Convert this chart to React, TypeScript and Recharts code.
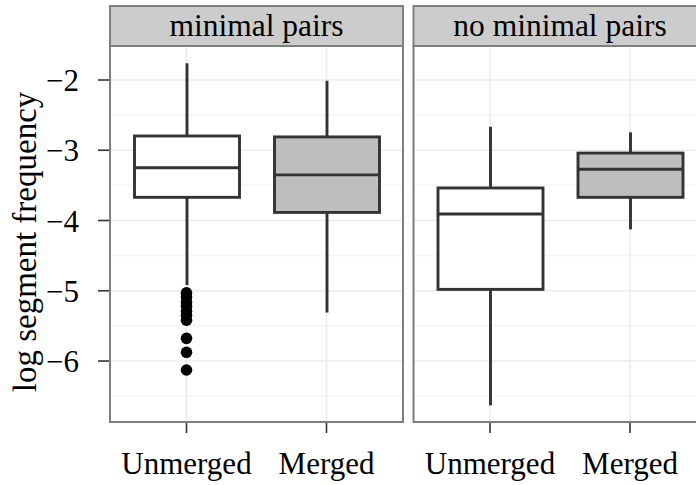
import React from "react";
import {
  ComposedChart,
  Bar,
  Scatter,
  XAxis,
  YAxis,
  CartesianGrid,
} from "recharts";

// ---- data ----
const categories = ["Unmerged", "Merged"];
const panelTitles = ["minimal pairs", "no minimal pairs"];
const boxFills = ["#ffffff", "#bebebe"];

// panel 1: minimal pairs
const mpWhiskerLow = [-4.92, -5.31];
const mpQ1 = [-3.67, -3.885];
const mpMedian = [-3.248, -3.35];
const mpQ3 = [-2.797, -2.81];
const mpWhiskerHigh = [-1.762, -2.01];
const mpOutliers = [-5.03, -5.09, -5.16, -5.22, -5.29, -5.35, -5.42, -5.677, -5.876, -6.128];

// panel 2: no minimal pairs
const nmpWhiskerLow = [-6.63, -4.125];
const nmpQ1 = [-4.98, -3.67];
const nmpMedian = [-3.907, -3.27];
const nmpQ3 = [-3.537, -3.04];
const nmpWhiskerHigh = [-2.665, -2.745];
const nmpOutliers: number[] = [];

const yTicks = [-6, -5, -4, -3, -2];
const yMinorTicks = [-6.5, -5.5, -4.5, -3.5, -2.5];
const yDomain = [-6.868, -1.516];

const FONT = "'Liberation Serif', 'Times New Roman', serif";
const BOX_STROKE = "#333333";
const SW = 2.9;

function buildRows(lo: number[], q1: number[], med: number[], q3: number[], hi: number[]) {
  return categories.map((cat, i) => ({
    cat,
    whisker: [lo[i], hi[i]],
    lo: lo[i],
    q1: q1[i],
    med: med[i],
    q3: q3[i],
    hi: hi[i],
    fill: boxFills[i],
  }));
}

const mpRows = buildRows(mpWhiskerLow, mpQ1, mpMedian, mpQ3, mpWhiskerHigh);
const nmpRows = buildRows(nmpWhiskerLow, nmpQ1, nmpMedian, nmpQ3, nmpWhiskerHigh);
const mpOutlierRows = mpOutliers.map((v) => ({ cat: "Unmerged", out: v }));
const nmpOutlierRows = nmpOutliers.map((v) => ({ cat: "Unmerged", out: v }));

const BoxShape = (props: any) => {
  const { x, y, width, height, payload } = props;
  if (!payload) return null;
  const top = Math.min(y, y + height);
  const h = Math.abs(height);
  const { lo, hi } = payload;
  const px = (v: number) => top + ((hi - v) / (hi - lo)) * h;
  const cx = x + width / 2;
  const yq3 = px(payload.q3);
  const yq1 = px(payload.q1);
  const ymed = px(payload.med);
  return (
    <g>
      <line x1={cx} x2={cx} y1={px(hi)} y2={yq3} stroke={BOX_STROKE} strokeWidth={SW} />
      <line x1={cx} x2={cx} y1={yq1} y2={px(lo)} stroke={BOX_STROKE} strokeWidth={SW} />
      <rect x={x} y={yq3} width={width} height={yq1 - yq3} fill={payload.fill} stroke={BOX_STROKE} strokeWidth={SW} />
      <line x1={x} x2={x + width} y1={ymed} y2={ymed} stroke={BOX_STROKE} strokeWidth={SW} />
    </g>
  );
};

const Dot = (props: any) => {
  const { cx, cy } = props;
  if (cx == null || cy == null) return null;
  return <circle cx={cx} cy={cy} r={5.8} fill="#000000" />;
};

const fmt = (v: number) => (v < 0 ? "\u2212" + Math.abs(v) : String(v));

const tickStyle = { fontFamily: FONT, fontSize: 31, fill: "#000000" };

function Panel({ rows, outliers, showY, width, marginLeft, marginRight }: any) {
  return (
    <ComposedChart
      width={width}
      height={485}
      data={rows}
      margin={{ top: 46, right: marginRight, bottom: 13, left: marginLeft }}
    >
      <CartesianGrid
        horizontalValues={yMinorTicks}
        vertical={false}
        stroke="#f6f6f6"
        strokeWidth={1.6}
      />
      <CartesianGrid stroke="#ebebeb" strokeWidth={1.6} />
      <XAxis
        dataKey="cat"
        type="category"
        allowDuplicatedCategory={false}
        padding={{ left: 6.5, right: 6.5 }}
        axisLine={false}
        tickSize={11}
        tickMargin={19}
        tickLine={{ stroke: "#333333", strokeWidth: 1.6 }}
        tick={tickStyle}
        height={50}
        interval={0}
      />
      <YAxis
        type="number"
        domain={yDomain}
        ticks={yTicks}
        allowDataOverflow
        hide={!showY}
        width={showY ? 110 : 0}
        axisLine={false}
        tickSize={12}
        tickMargin={19}
        tickLine={{ stroke: "#333333", strokeWidth: 1.6 }}
        tick={tickStyle}
        tickFormatter={fmt}
      />
      <Bar dataKey="whisker" barSize={105} shape={BoxShape} isAnimationActive={false} />
      <Scatter data={outliers} dataKey="out" shape={Dot} isAnimationActive={false} />
    </ComposedChart>
  );
}

export default function App() {
  const p1 = { x: 110, w: 293 };
  const p2 = { x: 413.5, w: 293 };
  const stripTop = 6;
  const panelTop = 46;
  const panelBottom = 422;
  return (
    <div
      style={{
        position: "absolute",
        left: 0,
        top: 0,
        width: 696,
        height: 485,
        overflow: "hidden",
        background: "#ffffff",
      }}
    >
      <div style={{ position: "absolute", left: 0, top: 0 }}>
        <Panel rows={mpRows} outliers={mpOutlierRows} showY width={404} marginLeft={0} marginRight={1} />
      </div>
      <div style={{ position: "absolute", left: 403, top: 0 }}>
        <Panel rows={nmpRows} outliers={nmpOutlierRows} showY={false} width={310} marginLeft={10.5} marginRight={6.5} />
      </div>
      <svg
        width={720}
        height={485}
        style={{ position: "absolute", left: 0, top: 0, pointerEvents: "none" }}
      >
        {[p1, p2].map((p, i) => (
          <g key={i}>
            <rect x={p.x} y={stripTop} width={p.w} height={panelTop - stripTop} fill="#cccccc" stroke="#7f7f7f" strokeWidth={2} />
            <text
              x={p.x + p.w / 2}
              y={36}
              textAnchor="middle"
              fontFamily={FONT}
              fontSize={31.5}
              fill="#000000"
            >
              {panelTitles[i]}
            </text>
            <rect x={p.x} y={panelTop} width={p.w} height={panelBottom - panelTop} fill="none" stroke="#7f7f7f" strokeWidth={2} />
          </g>
        ))}
        <text
          x={36}
          y={242}
          transform="rotate(-90, 36, 242)"
          textAnchor="middle"
          fontFamily={FONT}
          fontSize={33}
          fill="#000000"
        >
          log segment frequency
        </text>
      </svg>
    </div>
  );
}
